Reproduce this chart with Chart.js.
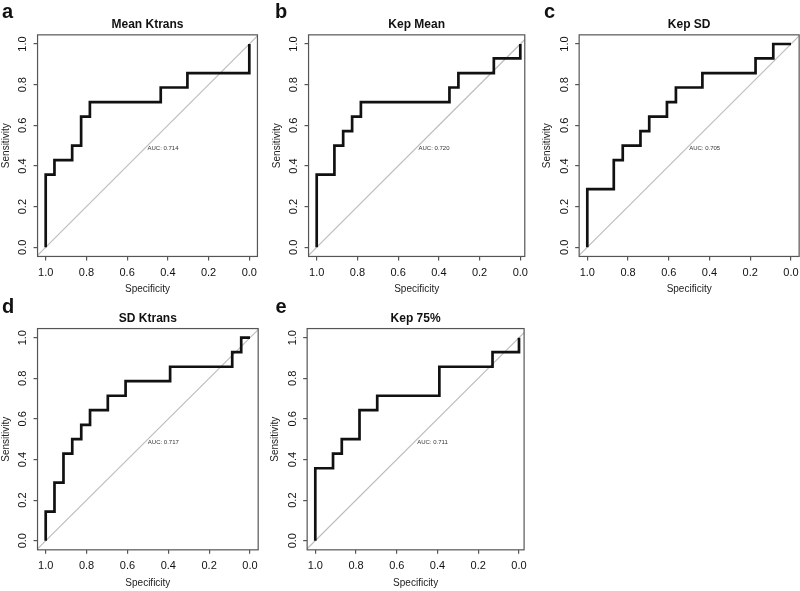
<!DOCTYPE html>
<html><head><meta charset="utf-8">
<script src="https://cdn.jsdelivr.net/npm/chart.js@4/dist/chart.umd.min.js"></script>
<style>
html,body{margin:0;padding:0;background:#fff;}
#wrap{position:relative;width:800px;height:591px;overflow:hidden;background:#fff;}
canvas{position:absolute;}
.lbl{position:absolute;font-family:"Liberation Sans",Arial,sans-serif;font-weight:bold;font-size:20px;line-height:1;color:#111;}
</style></head><body><div id="wrap"></div>
<script>
// ---- data ----
const panelLetters = ['a','b','c','d','e'];
const panelTitles = ['Mean Ktrans','Kep Mean','Kep SD','SD Ktrans','Kep 75%'];
const aucValues = [0.714, 0.720, 0.705, 0.717, 0.711];
const tickValues = [0, 0.2, 0.4, 0.6, 0.8, 1.0];
const xAxisTitle = 'Specificity';
const yAxisTitle = 'Sensitivity';

const specA = [1,1,0.957,0.957,0.870,0.870,0.826,0.826,0.783,0.783,0.435,0.435,0.304,0.304,0,0];
const sensA = [0,0.357,0.357,0.429,0.429,0.5,0.5,0.643,0.643,0.714,0.714,0.786,0.786,0.857,0.857,1];

const specB = [1,1,0.913,0.913,0.870,0.870,0.826,0.826,0.783,0.783,0.348,0.348,0.304,0.304,0.130,0.130,0,0];
const sensB = [0,0.357,0.357,0.5,0.5,0.571,0.571,0.643,0.643,0.714,0.714,0.786,0.786,0.857,0.857,0.929,0.929,1];

const specC = [1,1,0.870,0.870,0.826,0.826,0.739,0.739,0.696,0.696,0.609,0.609,0.565,0.565,0.435,0.435,0.174,0.174,0.087,0.087,0];
const sensC = [0,0.286,0.286,0.429,0.429,0.5,0.5,0.571,0.571,0.643,0.643,0.714,0.714,0.786,0.786,0.857,0.857,0.929,0.929,1,1];

const specD = [1,1,0.957,0.957,0.913,0.913,0.870,0.870,0.826,0.826,0.783,0.783,0.696,0.696,0.609,0.609,0.391,0.391,0.087,0.087,0.043,0.043,0];
const sensD = [0,0.143,0.143,0.286,0.286,0.429,0.429,0.5,0.5,0.571,0.571,0.643,0.643,0.714,0.714,0.786,0.786,0.857,0.857,0.929,0.929,1,1];

const specE = [1,1,0.913,0.913,0.870,0.870,0.783,0.783,0.696,0.696,0.391,0.391,0.130,0.130,0,0];
const sensE = [0,0.357,0.357,0.429,0.429,0.5,0.5,0.643,0.643,0.714,0.714,0.857,0.857,0.929,0.929,1];

const specSeries = [specA, specB, specC, specD, specE];
const sensSeries = [sensA, sensB, sensC, sensD, sensE];

// ---- layout (pixel positions of value 1 and 0 on each axis, right-side pad) ----
const geom = [
  {x1:45.7, x0:249.3, y1:44,    y0:247.3, padR:0.04,  lx:2,     ly:1},
  {x1:316.7,x0:520.3, y1:44,    y0:247.3, padR:0.022, lx:275,   ly:1},
  {x1:587.3,x0:791,   y1:44,    y0:247.3, padR:0.04,  lx:544,   ly:1},
  {x1:45.7, x0:250,   y1:337.7, y0:540.7, padR:0.04,  lx:2,     ly:296},
  {x1:315.3,x0:519,   y1:337.7, y0:540.7, padR:0.025, lx:275.5, ly:296}
];
const FONT = '"Liberation Sans", Arial, sans-serif';
const wrap = document.getElementById('wrap');

const boxPlugin = {
  id: 'rbox',
  afterDraw(chart) {
    const a = chart.chartArea, ctx = chart.ctx;
    ctx.save();
    ctx.strokeStyle = '#555';
    ctx.lineWidth = 1.2;
    ctx.strokeRect(a.left, a.top, a.right - a.left, a.bottom - a.top);
    ctx.restore();
  }
};
const aucPlugin = {
  id: 'auc',
  afterDatasetsDraw(chart, args, opts) {
    const ctx = chart.ctx;
    ctx.save();
    ctx.font = '6px ' + FONT;
    ctx.fillStyle = '#333';
    ctx.textAlign = 'left';
    ctx.textBaseline = 'top';
    ctx.fillText('AUC: ' + opts.value.toFixed(3),
      chart.scales.x.getPixelForValue(0.5), chart.scales.y.getPixelForValue(0.5));
    ctx.restore();
  }
};

function makePanel(i) {
  const g = geom[i];
  const xr = g.x0 - g.x1, yr = g.y0 - g.y1;
  const yPad = 0.045;
  const L = g.x1 - 0.04 * xr, R = g.x0 + g.padR * xr;
  const T = g.y1 - yPad * yr, B = g.y0 + yPad * yr;
  const cl = Math.round(L) - 40, ct = Math.round(T) - 34;
  const axW = L - cl, topH = T - ct;
  const cw = Math.min(Math.ceil(R - cl + 12), 800 - cl);
  const ch = Math.ceil(B - ct + 40);
  const rp = cw - (R - cl), axH = ch - (B - ct);
  const tpt = 16.2, tpb = topH - 14.4 - tpt;

  const c = document.createElement('canvas');
  c.width = cw; c.height = ch;
  c.style.left = cl + 'px'; c.style.top = ct + 'px';
  c.style.width = cw + 'px'; c.style.height = ch + 'px';
  wrap.appendChild(c);

  const lbl = document.createElement('div');
  lbl.className = 'lbl';
  lbl.textContent = panelLetters[i];
  lbl.style.left = g.lx + 'px'; lbl.style.top = g.ly + 'px';
  wrap.appendChild(lbl);

  const spec = specSeries[i], sens = sensSeries[i];
  const xMin = -g.padR, xMax = 1.04;
  const setTicks = s => { s.ticks = tickValues.map(v => ({value: v})); };

  new Chart(c, {
    type: 'scatter',
    data: {
      datasets: [
        {
          data: spec.map((s, j) => ({x: s, y: sens[j]})),
          showLine: true, borderColor: '#111', borderWidth: 2.7,
          pointRadius: 0, fill: false, tension: 0, order: 0,
          borderJoinStyle: 'miter'
        },
        {
          data: [{x: xMax, y: 1 - xMax}, {x: xMin, y: 1 - xMin}],
          showLine: true, borderColor: '#bdbdbd', borderWidth: 1.2,
          pointRadius: 0, fill: false, order: 1
        }
      ]
    },
    options: {
      responsive: false, animation: false, devicePixelRatio: 1,
      layout: {padding: {left: 0, top: 0, right: rp, bottom: 0}},
      plugins: {
        legend: {display: false}, tooltip: {enabled: false},
        title: {display: true, text: panelTitles[i], fullSize: false, color: '#111',
          font: {family: FONT, size: 12, weight: 'bold'}, padding: {top: tpt, bottom: tpb}},
        auc: {value: aucValues[i]}
      },
      scales: {
        x: {
          type: 'linear', reverse: true, min: xMin, max: xMax,
          afterBuildTicks: setTicks,
          afterFit: s => { s.height = axH; },
          grid: {drawOnChartArea: false, tickLength: 4, color: '#555', lineWidth: 1.2},
          border: {display: false},
          ticks: {callback: v => v.toFixed(1), color: '#111', padding: 5.5, maxRotation: 0, autoSkip: false,
            font: {family: FONT, size: 11}},
          title: {display: true, text: xAxisTitle, color: '#222', font: {family: FONT, size: 10},
            padding: {top: 0, bottom: axH - 33.3 - 6}}
        },
        y: {
          type: 'linear', min: -yPad, max: 1 + yPad,
          afterBuildTicks: setTicks,
          afterFit: s => { s.width = axW; },
          grid: {drawOnChartArea: false, tickLength: 4, color: '#555', lineWidth: 1.2},
          border: {display: false},
          ticks: {callback: v => v.toFixed(1), color: '#111', padding: 3, minRotation: 90, maxRotation: 90,
            crossAlign: 'center', autoSkip: false, font: {family: FONT, size: 11}},
          title: {display: true, text: yAxisTitle, color: '#222', font: {family: FONT, size: 10},
            padding: {top: axW - 31.6 - 6, bottom: 0}}
        }
      }
    },
    plugins: [boxPlugin, aucPlugin]
  });
}
for (let i = 0; i < 5; i++) makePanel(i);
</script>
</body></html>
